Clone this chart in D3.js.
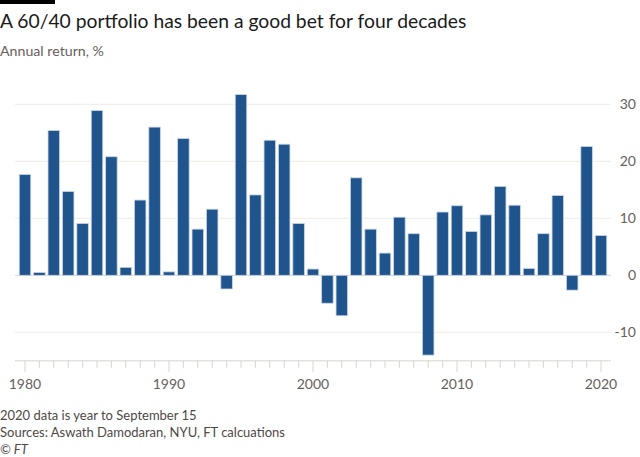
<!DOCTYPE html>
<html><head><meta charset="utf-8">
<script src="https://cdn.jsdelivr.net/npm/d3@7"></script>
<style>
body{margin:0;background:#fff;}
svg{display:block;font-family:Lato,sans-serif;}
</style></head>
<body><svg id="c" width="640" height="457"></svg>
<script>
const years = d3.range(1980, 2021);
const returns = [17.7,0.5,25.4,14.7,9.1,28.9,20.8,1.4,13.2,26.0,
  0.6,24.0,8.1,11.6,-2.4,31.7,14.1,23.7,23.0,9.1,
  1.1,-4.9,-7.1,17.1,8.1,3.9,10.2,7.3,-14.0,11.1,
  12.2,7.7,10.6,15.6,12.3,1.2,7.3,14.0,-2.6,22.6,7.0];
const yTicks = [-10,0,10,20,30];
const xTickLabels = [1980,1990,2000,2010,2020];
const title = "A 60/40 portfolio has been a good bet for four decades";
const subtitle = "Annual return, %";
const notes = ["2020 data is year to September 15","Sources: Aswath Damodaran, NYU, FT calcuations"];
const credit = "© FT";

const svg = d3.select("#c");
const pL = 15, pR = 611, pT = 75.8, pB = 360.8;
const x = d3.scaleBand().domain(years).range([pL, pR]).paddingInner(0.2).paddingOuter(0.294);
const y = d3.scaleLinear().domain([-15, 35]).range([pB, pT]);

svg.append("rect").attr("x",0).attr("y",0).attr("width",55).attr("height",4).attr("fill","#000");
svg.append("text").attr("x",0).attr("y",28).attr("font-size",19.3).attr("fill","#1a1a1a").text(title);
svg.append("text").attr("x",0).attr("y",56).attr("font-size",14.2).attr("fill","#66605c").text(subtitle);

// grid
svg.append("g").selectAll("line").data(yTicks).join("line")
  .attr("x1",pL).attr("x2",pR).attr("y1",d=>y(d)).attr("y2",d=>y(d))
  .attr("stroke",d=>d===0?"#d9d4cf":"#efeae5").attr("stroke-width",1);
svg.append("g").selectAll("text").data(yTicks).join("text")
  .attr("x",636).attr("y",d=>y(d)+5).attr("text-anchor","end")
  .attr("font-size",14).attr("fill","#66605c").text(d=>d);

// bars
svg.append("g").selectAll("rect").data(years).join("rect")
  .attr("x",d=>x(d)).attr("width",x.bandwidth())
  .attr("y",(d,i)=>y(Math.max(0,returns[i])))
  .attr("height",(d,i)=>Math.abs(y(returns[i])-y(0)))
  .attr("fill","#1f558c").attr("stroke","#c9d6e6").attr("stroke-width",0.8);

// x axis
const ax = svg.append("g");
ax.append("line").attr("x1",pL).attr("x2",pR).attr("y1",pB).attr("y2",pB).attr("stroke","#d9d4cf");
ax.selectAll("line.t").data(years).join("line").attr("class","t")
  .attr("x1",d=>x(d)+x.bandwidth()/2).attr("x2",d=>x(d)+x.bandwidth()/2)
  .attr("y1",pB).attr("y2",d=>d%10===0?pB+11:pB+7).attr("stroke","#d9d4cf");
ax.selectAll("text").data(xTickLabels).join("text")
  .attr("x",d=>x(d)+x.bandwidth()/2).attr("y",389).attr("text-anchor","middle")
  .attr("font-size",14).attr("fill","#66605c").text(d=>d);

svg.append("g").selectAll("text").data(notes).join("text")
  .attr("x",0).attr("y",(d,i)=>420+i*17).attr("font-size",13).attr("fill","#4d4845").text(d=>d);
svg.append("text").attr("x",0).attr("y",454).attr("font-size",13).attr("font-style","italic").attr("fill","#4d4845").text(credit);
</script></body></html>
